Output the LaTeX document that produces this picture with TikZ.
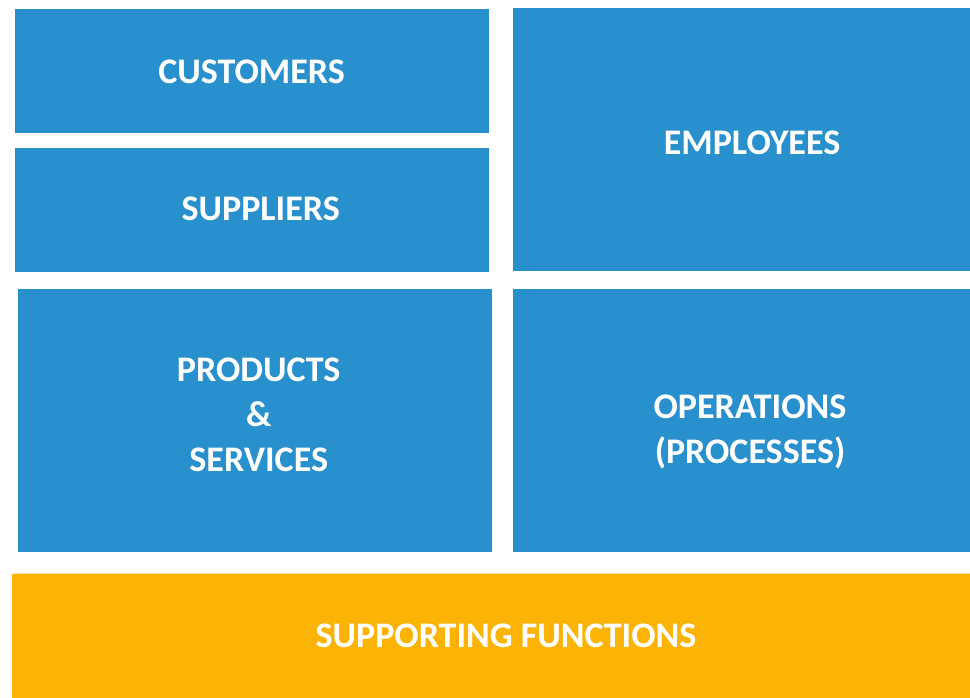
\documentclass[tikz,border=0pt]{standalone}
\usepackage{fontspec}
\setmainfont{Carlito}
\definecolor{boxblue}{RGB}{40,144,204}
\definecolor{boxorange}{RGB}{251,180,5}
\begin{document}
\begin{tikzpicture}[x=1pt,y=-1pt,
  bluebox/.style={fill=boxblue,draw=none,inner sep=0pt,outer sep=0pt,anchor=north west},
  orangebox/.style={fill=boxorange,draw=none,inner sep=0pt,outer sep=0pt,anchor=north west,rounded corners=2pt},
  lbl/.style={text=white,font=\fontsize{36}{45}\selectfont\bfseries,inner sep=0pt,align=center}]
\useasboundingbox (0,0) rectangle (970,697);
\fill[white] (0,0) rectangle (970,697);
% boxes
\node[bluebox,minimum width=474pt,minimum height=123.7pt] (cust) at (14.8,9) {};
\node[bluebox,minimum width=474pt,minimum height=123.7pt] (supp) at (14.8,148) {};
\node[bluebox,minimum width=457.2pt,minimum height=262.7pt] (empl) at (512.8,8) {};
\node[bluebox,minimum width=474pt,minimum height=262.7pt] (prod) at (17.9,289) {};
\node[bluebox,minimum width=457.2pt,minimum height=262.7pt] (oper) at (512.8,289) {};
\node[orangebox,minimum width=960pt,minimum height=125pt] (supf) at (11.8,573.7) {};
% labels
\node[lbl,anchor=base] (custt) at (251.6,83) {CUSTOMERS};
\node[lbl,anchor=base] (suppt) at (260.7,220) {SUPPLIERS};
\node[lbl,anchor=base] (emplt) at (752,154) {EMPLOYEES};
\node[lbl] (prodt) at (258.7,414.7) {PRODUCTS\\\&\\SERVICES};
\node[lbl] (opert) at (750,432) {OPERATIONS\\(PROCESSES)};
\node[lbl,anchor=base] (supft) at (506,647) {SUPPORTING FUNCTIONS};
\end{tikzpicture}
\end{document}
